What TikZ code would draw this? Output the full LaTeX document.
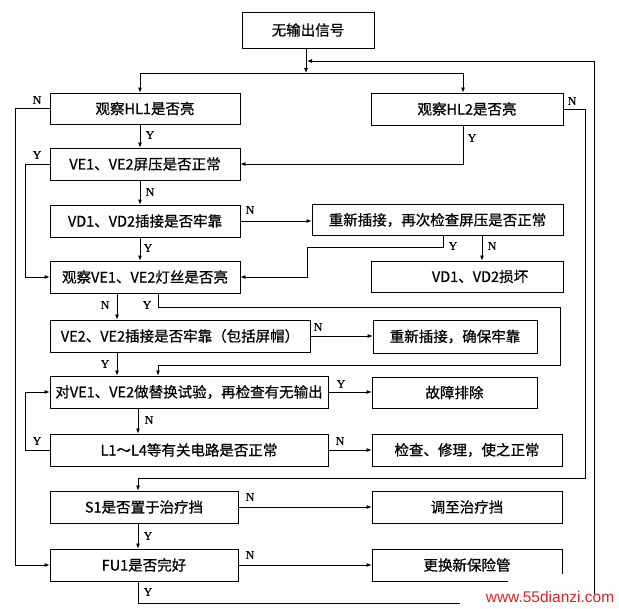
\documentclass[tikz,border=0pt]{standalone}
\usepackage{fontspec}
\setmainfont{Noto Sans CJK SC}
\newfontfamily\boxfont{Noto Sans CJK SC}[FakeBold=0.7]
\newfontfamily\lblfont{Liberation Serif}[FakeBold=0.5]
\newfontfamily\wmfont{Liberation Sans}
\usetikzlibrary{arrows.meta}
\definecolor{wmred}{RGB}{215,35,40}
\begin{document}
\begin{tikzpicture}[x=1pt,y=-1pt,
  box/.style={draw, line width=0.8pt, minimum height=32pt, inner sep=0pt,
              font=\boxfont\fontsize{14.5}{16}\selectfont},
  con/.style={line width=0.8pt},
  arr/.style={con, -{Latex[length=5pt,width=4pt]}},
  lbl/.style={font=\lblfont\fontsize{12}{12}\selectfont, inner sep=0pt}]
\useasboundingbox (0,0) rectangle (619,609);
% boxes
\node[box, minimum width=132pt, minimum height=36pt] (start) at (308,30) {无输出信号};
\node[box, minimum width=190pt, minimum height=31pt] (hl1) at (145,108.5) {观察HL1是否亮};
\node[box, minimum width=192pt] (hl2) at (467,109) {观察HL2是否亮};
\node[box, minimum width=190pt] (ve) at (145,164) {VE1、VE2屏压是否正常};
\node[box, minimum width=190pt] (vd) at (145,221) {VD1、VD2插接是否牢靠};
\node[box, minimum width=251pt, minimum height=31pt] (rein) at (437.5,220) {重新插接，再次检查屏压是否正常};
\node[box, minimum width=190pt] (vef) at (145,277) {观察VE1、VE2灯丝是否亮};
\node[box, minimum width=192pt, minimum height=31pt] (vdbad) at (467,276.5) {\hspace{26pt}VD1、VD2损坏};
\node[box, minimum width=260pt] (ve2) at (180,336) {VE2、VE2插接是否牢靠（包括屏帽）};
\node[box, minimum width=164pt, minimum height=33pt] (rein2) at (455,336.5) {重新插接，确保牢靠};
\node[box, minimum width=278pt] (swap) at (189,392) {对VE1、VE2做替换试验，再检查有无输出};
\node[box, minimum width=165pt, minimum height=31pt] (fixed) at (454.5,392.5) {故障排除};
\node[box, minimum width=278pt] (lc) at (189,450) {L1～L4等有关电路是否正常};
\node[box, minimum width=190pt] (repair) at (467,450) {检查、修理，使之正常};
\node[box, minimum width=188pt] (s1) at (144,507) {S1是否置于治疗挡};
\node[box, minimum width=190pt] (adj) at (467,507) {调至治疗挡};
\node[box, minimum width=188pt] (fu) at (144,565) {FU1是否完好};
\node[box, minimum width=190pt] (fuse) at (467,565) {更换新保险管};
% helper coordinates
\coordinate (xA) at (140,0);
\coordinate (xS) at (138,0);
\coordinate (xC) at (117,0);
\coordinate (xD) at (158,0);
\coordinate (xH) at (463,0);
\coordinate (xY) at (443,0);
\coordinate (xZ) at (482,0);
\coordinate (xL) at (15,0);
\coordinate (xB) at (25,0);
\coordinate (j) at (306,73);
\coordinate (lp) at (594,603);
\coordinate (ret) at (307,61);
\coordinate (n1) at (585,478);
\coordinate (m1) at (307,247);
\coordinate (m2) at (560,307);
\coordinate (m3) at (158,365);
% connectors
\draw[arr] (start.south -| j) -- (j);
\draw[arr] (j) -| (hl1.north -| xA);
\draw[arr] (j) -| (hl2.north -| xH);
\draw[arr] (fu.south -| xS) |- (lp) |- (ret);
\draw[arr] (hl1.west) -- (hl1.west -| xL) |- (fu.west);
\draw[arr] (hl1.south -| xA) -- (ve.north -| xA);
\draw[arr] (hl2.south -| xH) |- (ve.east);
\draw[arr] (hl2.east) -| (n1) -| (s1.north -| xS);
\draw[arr] (ve.west) -- (ve.west -| xB) |- (vef.west);
\draw[arr] (ve.south -| xA) -- (vd.north -| xA);
\draw[arr] (vd.east) -- (vd.east -| rein.west);
\draw[arr] (vd.south -| xA) -- (vef.north -| xA);
\draw[arr] (rein.south -| xY) |- (m1) |- (vef.east);
\draw[arr] (rein.south -| xZ) -- (vdbad.north -| xZ);
\draw[arr] (vef.south -| xC) -- (ve2.north -| xC);
\draw[arr] (vef.south -| xD) |- (m2) |- (m3) -- (swap.north -| xD);
\draw[arr] (ve2.east) -- (ve2.east -| rein2.west);
\draw[arr] (ve2.south -| xC) -- (swap.north -| xC);
\draw[arr] (swap.east) -- (swap.east -| fixed.west);
\draw[arr] (swap.south -| xS) -- (lc.north -| xS);
\draw[arr] (lc.west) -- (lc.west -| xB) |- (swap.west);
\draw[arr] (lc.east) -- (lc.east -| repair.west);
\draw[arr] (s1.east) -- (s1.east -| adj.west);
\draw[arr] (s1.south -| xS) -- (fu.north -| xS);
\draw[arr] (fu.east) -- (fu.east -| fuse.west);
% labels
\node[lbl] (a1) at (37,100) {N};
\node[lbl] (a2) at (150,135) {Y};
\node[lbl] (a3) at (472,138) {Y};
\node[lbl] (a4) at (572,101) {N};
\node[lbl] (a5) at (37,155) {Y};
\node[lbl] (a6) at (150,192) {N};
\node[lbl] (a7) at (250,210) {N};
\node[lbl] (a8) at (148,248) {Y};
\node[lbl] (a9) at (453,246) {Y};
\node[lbl] (a10) at (492,246) {N};
\node[lbl] (a11) at (105,305) {N};
\node[lbl] (a12) at (147,305) {Y};
\node[lbl] (a13) at (318,327) {N};
\node[lbl] (a14) at (105,364) {Y};
\node[lbl] (a15) at (341,384) {Y};
\node[lbl] (a16) at (149,420) {N};
\node[lbl] (a17) at (37,441) {Y};
\node[lbl] (a18) at (340,441) {N};
\node[lbl] (a19) at (250,497) {N};
\node[lbl] (a20) at (148,536) {Y};
\node[lbl] (a21) at (250,555) {N};
\node[lbl] (a22) at (148,592) {Y};
% watermark
\fill[white] (460,594) rectangle (619,609);
\fill[white] (508,574) rectangle (580,594);
\node[font=\wmfont\fontsize{15.5}{16}\selectfont, text=wmred, inner sep=0pt] (wm) at (550,597) {www.55dianzi.com};
\end{tikzpicture}
\end{document}
